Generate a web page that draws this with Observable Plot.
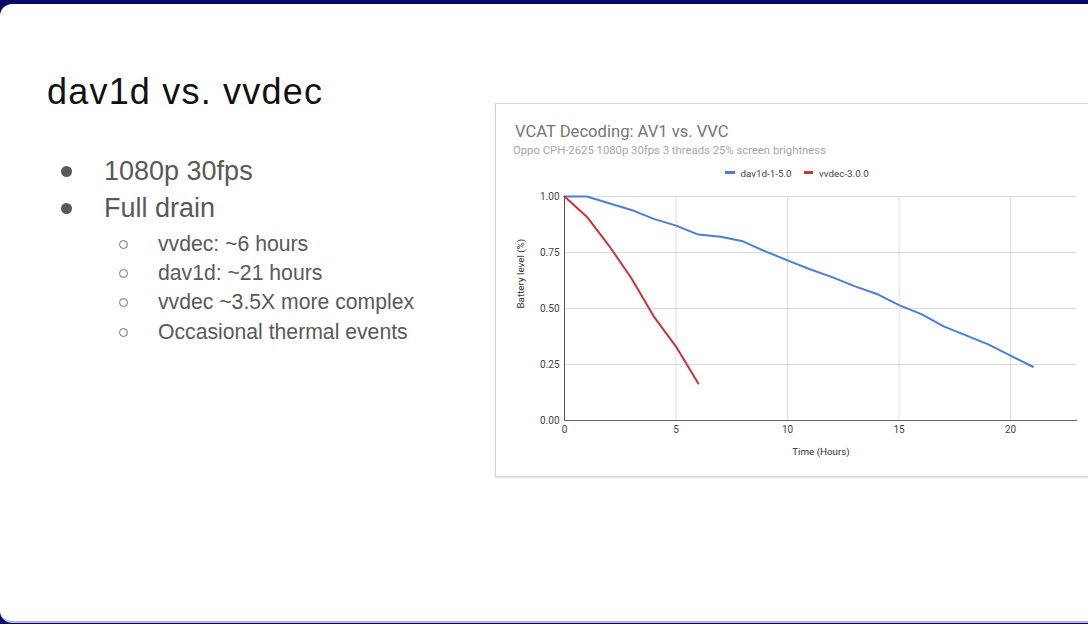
<!DOCTYPE html>
<html>
<head>
<meta charset="utf-8">
<script src="https://cdn.jsdelivr.net/npm/d3@7"></script>
<script src="https://cdn.jsdelivr.net/npm/@observablehq/plot@0.6"></script>
<style>
  html, body { margin: 0; padding: 0; width: 1088px; height: 624px; overflow: hidden; background: #050a6a; }
  #slide { position: absolute; left: 0; top: 4px; width: 1088px; height: 617px; background: #fff;
           border-top-left-radius: 12px; border-bottom-left-radius: 12px; border-bottom: 2px solid #b9b6d3; }
  .t { position: absolute; white-space: nowrap; font-family: "Liberation Sans", Arial, sans-serif; line-height: 1; }
  #title { left: 47px; top: 74px; font-size: 36px; letter-spacing: 1.2px; color: #111; }
  .b1 { font-size: 27px; color: #595959; left: 104px; }
  .b2 { font-size: 21.2px; color: #595959; left: 158px; }
  .dot { position: absolute; width: 11px; height: 11px; border-radius: 50%; background: #595959; }
  .ring { position: absolute; width: 7px; height: 7px; border-radius: 50%; border: 1px solid #777; }
  #chartbox { position: absolute; left: 495px; top: 103px; width: 640px; height: 372px; background: #fff;
              border: 1px solid #d4d4d4; box-shadow: 0 1px 2px rgba(0,0,0,0.12); }
  .c { position: absolute; white-space: nowrap; font-family: Roboto, "Liberation Sans", sans-serif; line-height: 1; }
  #ctitle { left: 515px; top: 124px; font-size: 16.6px; color: #757575; }
  #csub { left: 513px; top: 145px; font-size: 11.3px; color: #a6a6a6; }
  #legend { top: 168.5px; font-size: 9.8px; color: #444; }
  .sw { display: inline-block; width: 9.5px; height: 3px; vertical-align: middle; margin-right: 6px; position: relative; top: -1px; }
  #plot { position: absolute; left: 495px; top: 180px; }
</style>
</head>
<body>
<div id="slide"></div>
<div id="chartbox"></div>
<div id="text"></div>
<div id="plot"></div>
<script>
// ---- data ----
const slideTitle = "dav1d vs. vvdec";
const bullets = ["1080p 30fps", "Full drain"];
const subBullets = ["vvdec: ~6 hours", "dav1d: ~21 hours", "vvdec ~3.5X more complex", "Occasional thermal events"];
const chartTitle = "VCAT Decoding: AV1 vs. VVC";
const chartSubtitle = "Oppo CPH-2625 1080p 30fps 3 threads 25% screen brightness";
const seriesNames = ["dav1d-1-5.0", "vvdec-3.0.0"];
const seriesColors = ["#4a7fd9", "#cc3239"];
const dav1dHours = [0, 1, 2, 3, 4, 5, 6, 7, 8, 9, 10, 11, 12, 13, 14, 15, 16, 17, 18, 19, 20, 21];
const dav1dLevel = [1.00, 1.00, 0.97, 0.94, 0.90, 0.87, 0.83, 0.82, 0.80, 0.755, 0.715, 0.675, 0.64, 0.60, 0.565, 0.515, 0.475, 0.42, 0.38, 0.34, 0.29, 0.24];
const vvdecHours = [0, 1, 2, 3, 4, 5, 6];
const vvdecLevel = [1.00, 0.91, 0.78, 0.635, 0.465, 0.33, 0.165];
const xTicks = [0, 5, 10, 15, 20];
const yTicks = [0, 0.25, 0.5, 0.75, 1];
const xLabel = "Time (Hours)";
const yLabel = "Battery level (%)";

// ---- slide text ----
const tx = document.getElementById("text");
function add(cls, id, text, css) {
  const d = document.createElement("div");
  d.className = cls; if (id) d.id = id; d.textContent = text;
  Object.assign(d.style, css || {});
  tx.appendChild(d); return d;
}
add("t", "title", slideTitle);
const b1Tops = [157.5, 194.5];
bullets.forEach((b, i) => {
  add("t b1", null, b, {top: b1Tops[i] + "px"});
  const dot = document.createElement("div"); dot.className = "dot";
  dot.style.left = "61px"; dot.style.top = (b1Tops[i] + 8.5) + "px"; tx.appendChild(dot);
});
const b2Tops = [232.5, 261.5, 291, 321];
subBullets.forEach((b, i) => {
  add("t b2", null, b, {top: b2Tops[i] + "px"});
  const r = document.createElement("div"); r.className = "ring";
  r.style.left = "119px"; r.style.top = (b2Tops[i] + 7) + "px"; tx.appendChild(r);
});
add("c", "ctitle", chartTitle);
add("c", "csub", chartSubtitle);
const lg = document.createElement("div"); lg.className = "c"; lg.id = "legend";
lg.style.left = "725px";
seriesNames.forEach((n, i) => {
  const s = document.createElement("span"); s.className = "sw"; s.style.background = seriesColors[i];
  lg.appendChild(s);
  const t = document.createElement("span"); t.textContent = n; t.style.marginRight = i === 0 ? "12px" : "0";
  lg.appendChild(t);
});
tx.appendChild(lg);

// ---- chart ----
const rows = [
  ...dav1dHours.map((h, i) => ({hour: h, level: dav1dLevel[i], series: seriesNames[0]})),
  ...vvdecHours.map((h, i) => ({hour: h, level: vvdecLevel[i], series: seriesNames[1]}))
];

const chart = Plot.plot({
  width: 593, height: 290,
  marginLeft: 69, marginRight: 11, marginTop: 16, marginBottom: 50,
  style: {fontFamily: "Roboto, 'Liberation Sans', sans-serif", fontSize: "10px", color: "#444", background: "transparent"},
  x: {domain: [0, 23]},
  y: {domain: [0, 1]},
  color: {domain: seriesNames, range: seriesColors},
  marks: [
    Plot.gridX(xTicks, {stroke: "#dcdcdc", strokeOpacity: 1}),
    Plot.gridY(yTicks, {stroke: "#dcdcdc", strokeOpacity: 1}),
    Plot.ruleX([0], {stroke: "#555", strokeWidth: 1}),
    Plot.ruleY([0], {stroke: "#666", strokeWidth: 1}),
    Plot.axisX(xTicks, {tickSize: 0, tickPadding: 5, label: null, fill: "#444"}),
    Plot.axisY(yTicks, {tickSize: 0, tickPadding: 5, label: null, tickFormat: d3.format(".2f"), fill: "#444"}),
    Plot.text([xLabel], {frameAnchor: "bottom", dy: 34.5, fill: "#333", fontSize: 9.8}),
    Plot.text([yLabel], {frameAnchor: "left", dx: -44, rotate: -90, fill: "#333", fontSize: 9.8}),
    Plot.line(rows, {x: "hour", y: "level", z: "series", stroke: "series", strokeWidth: 2, curve: "linear"})
  ]
});
document.getElementById("plot").appendChild(chart);
</script>
</body>
</html>
